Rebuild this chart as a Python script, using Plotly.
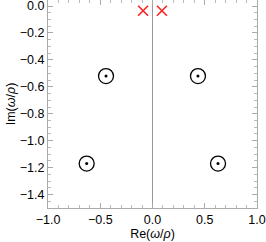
import plotly.graph_objects as go

# Poles (circles with dot) and zeros (red crosses)
pole_re = [-0.445, 0.435, -0.63, 0.627]
pole_im = [-0.52, -0.52, -1.17, -1.17]
cross_re = [-0.09, 0.09]
cross_im = [-0.035, -0.035]

fnt = dict(family="Liberation Sans, Arial, sans-serif", size=12.5, color="black")

fig = go.Figure()
fig.add_trace(go.Scatter(x=pole_re, y=pole_im, mode="markers",
                         marker=dict(symbol="circle-open", size=15, color="black",
                                     line=dict(width=1.3, color="black")),
                         showlegend=False, hoverinfo="skip"))
fig.add_trace(go.Scatter(x=pole_re, y=pole_im, mode="markers",
                         marker=dict(symbol="circle", size=3, color="black"),
                         showlegend=False, hoverinfo="skip"))
fig.add_trace(go.Scatter(x=cross_re, y=cross_im, mode="markers",
                         marker=dict(symbol="x-thin-open", size=10, color="#ff2020",
                                     line=dict(width=1.6, color="#ff2020")),
                         showlegend=False, hoverinfo="skip"))

fig.add_shape(type="line", x0=0, x1=0, y0=-1.5, y1=0.045, xref="x", yref="y",
              line=dict(color="#999999", width=1), layer="below")

axcommon = dict(showgrid=False, zeroline=False, showline=True, linecolor="#aaaaaa",
                linewidth=1, mirror="allticks", ticks="inside", ticklen=5,
                tickcolor="#aaaaaa", tickfont=fnt, ticklabeloverflow="allow")

fig.update_xaxes(range=[-1, 1], tickvals=[-1, -0.5, 0, 0.5, 1],
                 ticktext=["−1.0", "−0.5", "0.0", "0.5", "1.0"],
                 minor=dict(dtick=0.1, ticks="inside", ticklen=3, tickcolor="#bbbbbb"),
                 title=dict(text="Re(<i>ω</i>/<i>ρ</i>)", font=fnt, standoff=2),
                 **axcommon)
fig.update_yaxes(range=[-1.5, 0.045], tickvals=[0, -0.2, -0.4, -0.6, -0.8, -1.0, -1.2, -1.4],
                 ticktext=["0.0", "−0.2", "−0.4", "−0.6", "−0.8", "−1.0", "−1.2", "−1.4"],
                 minor=dict(dtick=0.05, ticks="inside", ticklen=3, tickcolor="#bbbbbb"),
                 title=dict(text="Im(<i>ω</i>/<i>ρ</i>)", font=fnt, standoff=1),
                 **axcommon)

fig.update_layout(width=266, height=242, margin=dict(l=48, r=9, t=0, b=34),
                  plot_bgcolor="white", paper_bgcolor="white")
fig.write_html("out.html", config={"displayModeBar": False},
               post_script="document.body.style.margin='0';document.body.style.overflow='hidden';")
